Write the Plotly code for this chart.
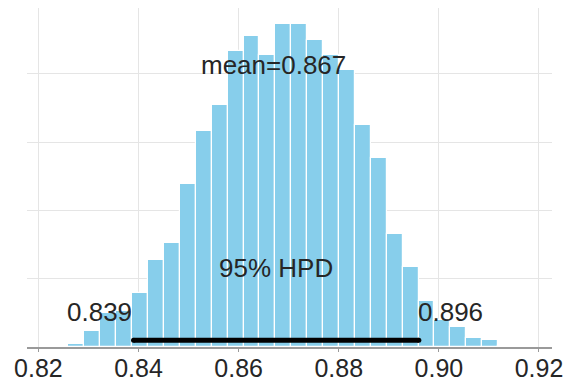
import numpy as np
import plotly.graph_objects as go

# histogram of posterior samples (counts per bin), bins from hist_start to hist_stop
hist_start = 0.8260
hist_stop = 0.9182
counts = [10, 46, 100, 106, 159, 255, 306, 478, 632, 709,
          868, 912, 855, 946, 946, 901, 855, 811, 650, 554,
          331, 235, 134, 79, 58, 26, 20, 4, 4]

# summary stats
mean_val = 0.867
hpd = [0.839, 0.896]
hpd_label = "95% HPD"

x_ticks = [0.82, 0.84, 0.86, 0.88, 0.90, 0.92]
x_tick_text = ["0.82", "0.84", "0.86", "0.88", "0.90", "0.92"]

edges = np.linspace(hist_start, hist_stop, len(counts) + 1)
centers = (edges[:-1] + edges[1:]) / 2
bin_w = edges[1] - edges[0]
ymax = max(counts) * 1.05

font = "Liberation Sans, Arial, sans-serif"
txt_col = "#262626"

fig = go.Figure()
fig.add_trace(go.Bar(
    x=centers, y=counts, width=bin_w,
    marker=dict(color="#87CEEB", line=dict(color="white", width=1.2)),
    showlegend=False, hoverinfo="skip",
))

# hpd bar with round-ish ends
fig.add_trace(go.Scatter(
    x=hpd, y=[ymax * 0.02] * 2, mode="lines+markers",
    line=dict(color="black", width=5),
    marker=dict(color="black", size=5),
    showlegend=False, hoverinfo="skip",
))

def label(x, frac, text, anchor, dx=0):
    fig.add_annotation(x=x, y=ymax * frac, text=text, showarrow=False,
                       xanchor=anchor, yanchor="bottom", yshift=-6, xshift=dx,
                       font=dict(family=font, size=26, color=txt_col))

label(hpd[0], 0.07, f"{hpd[0]:.3f}", "right")
label(hpd[1], 0.07, f"{hpd[1]:.3f}", "left", dx=-3)
label((hpd[0] + hpd[1]) / 2, 0.2, hpd_label, "center")
label(mean_val, 0.8, f"mean={mean_val:.3f}", "center")

fig.update_xaxes(
    range=[0.81772, 0.92260], tickvals=x_ticks, ticktext=x_tick_text,
    showgrid=True, gridcolor="#e5e5e5", gridwidth=1,
    showline=True, linecolor="#9a9a9a", linewidth=1.5,
    ticks="outside", ticklen=3, tickcolor="#9a9a9a",
    tickfont=dict(family=font, size=25, color=txt_col),
    ticklabelstandoff=-5, ticklabeloverflow="allow",
    zeroline=False, automargin=False,
)
fig.update_yaxes(
    range=[0, ymax], dtick=200, showticklabels=False,
    showgrid=True, gridcolor="#e5e5e5", gridwidth=1,
    zeroline=False, showline=False, automargin=False,
)
fig.update_layout(
    width=563, height=381,
    margin=dict(l=27, r=11, t=8, b=34),
    plot_bgcolor="white", paper_bgcolor="white",
    bargap=0,
)

# drop the default page margin so the figure sits at the window corner
fig.write_html("out.html", config={"displayModeBar": False},
               post_script="document.body.style.margin='0';")
